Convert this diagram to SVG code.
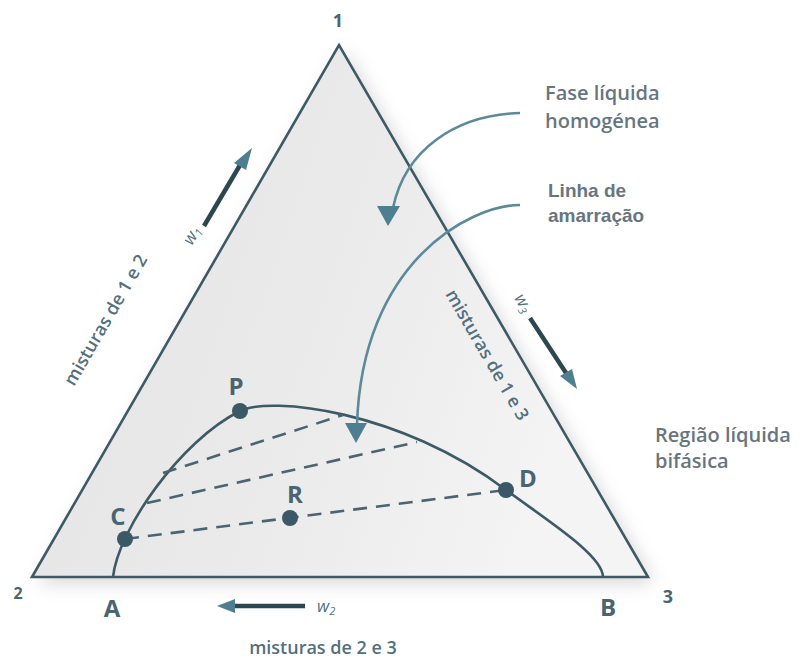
<svg xmlns="http://www.w3.org/2000/svg" width="803" height="660" viewBox="0 0 803 660">
<defs>
<linearGradient id="tri" x1="0" y1="0" x2="1" y2="0.3">
<stop offset="0" stop-color="#e3e3e3"/>
<stop offset="0.6" stop-color="#ebebeb"/>
<stop offset="1" stop-color="#f4f4f4"/>
</linearGradient>
<filter id="sh" x="-20%" y="-20%" width="140%" height="140%">
<feGaussianBlur stdDeviation="9"/>
</filter>
<style>
.edge{fill:url(#tri);stroke:#3d5a66;stroke-width:2.6;stroke-linejoin:miter}
.shadow{fill:#9a9a9a;opacity:0.4}
.curve{fill:none;stroke:#3d5a66;stroke-width:2.6}
.tie{fill:none;stroke:#4a6470;stroke-width:2.6;stroke-dasharray:14 9}
.dot{fill:#3a5865}
.lbl{font-family:"Open Sans","DejaVu Sans",sans-serif;font-weight:700;fill:#4a6470;text-anchor:middle}
.mix{font-family:"Open Sans","DejaVu Sans",sans-serif;font-weight:600;font-size:18px;fill:#52707d;text-anchor:middle}
.w{font-family:"Open Sans","DejaVu Sans",sans-serif;font-style:italic;font-size:17px;fill:#52707d}
.note{font-family:"Open Sans","DejaVu Sans",sans-serif;font-weight:600;font-size:20px;fill:#67767e}
.note2{font-family:"Liberation Sans",Arial,sans-serif;font-weight:700;font-size:19px;fill:#67767e}
.call{fill:none;stroke:#5b8a9b;stroke-width:2.6}
.head{fill:#4d7f91}
.dark{fill:none;stroke:#2e4650;stroke-width:4.5}
</style>
</defs>
<g id="triangle">
<polygon class="shadow" points="38,583 345,51 654,583" filter="url(#sh)"/>
<polygon class="edge" points="32,577 339,45 648,577"/>
</g>
<g id="binodal">
<path class="curve" d="M113,577 C118,530 180,441 240,411 C270,396 400,410 506,490 C545,519 603,555 603,577"/>
</g>
<g id="tielines">
<line class="tie" x1="163" y1="473" x2="343" y2="415"/>
<line class="tie" x1="147" y1="503" x2="417" y2="442"/>
<line class="tie" x1="125" y1="539" x2="506" y2="490"/>
</g>
<g id="points">
<circle class="dot" cx="240" cy="411" r="8"/>
<circle class="dot" cx="125" cy="539" r="8"/>
<circle class="dot" cx="290" cy="518" r="8"/>
<circle class="dot" cx="506" cy="490" r="8"/>
</g>
<g id="labels">
<text class="lbl" x="338" y="27" font-size="18">1</text>
<text class="lbl" x="18" y="599" font-size="16">2</text>
<text class="lbl" x="668" y="603" font-size="18">3</text>
<text class="lbl" x="112" y="617" font-size="24">A</text>
<text class="lbl" x="608" y="616" font-size="24">B</text>
<text class="lbl" x="236" y="395" font-size="24">P</text>
<text class="lbl" x="118" y="525" font-size="24">C</text>
<text class="lbl" x="295" y="503" font-size="24">R</text>
<text class="lbl" x="528" y="487" font-size="24">D</text>
</g>
<g id="mixtures">
<text class="mix" x="111" y="323" transform="rotate(-60 111 323)">misturas de 1 e 2</text>
<text class="mix" x="482" y="358" transform="rotate(60 482 358)">misturas de 1 e 3</text>
<text class="mix" x="323" y="654">misturas de 2 e 3</text>
</g>
<g id="axes">
<line class="dark" x1="204" y1="226" x2="243" y2="160"/>
<polygon class="head" points="252,148 246,170 234,163"/>
<text class="w" x="192" y="246" transform="rotate(-60 192 246)">w<tspan font-size="11" dy="3">1</tspan></text>
<line class="dark" x1="305" y1="606" x2="232" y2="606"/>
<polygon class="head" points="217,606 235,599 235,613"/>
<text class="w" x="317" y="612">w<tspan font-size="11" dy="3">2</tspan></text>
<line class="dark" x1="530" y1="318" x2="568" y2="376"/>
<polygon class="head" points="577,389 560,376 572,369"/>
<text class="w" x="514" y="298" transform="rotate(60 514 298)">w<tspan font-size="11" dy="3">3</tspan></text>
</g>
<g id="callouts">
<path class="call" d="M520,113 C455,115 405,150 393,208"/>
<polygon class="head" points="377,206 400,206 388,226"/>
<path class="call" d="M520,205 C470,205 362,262 357,425"/>
<polygon class="head" points="345,423 367,423 356,443"/>
</g>
<g id="notes">
<text class="note" x="545" y="100">Fase líquida</text>
<text class="note" x="545" y="128">homogénea</text>
<text class="note2" x="548" y="197">Linha de</text>
<text class="note2" x="548" y="222">amarração</text>
<text class="note" x="655" y="442">Região líquida</text>
<text class="note" x="655" y="468">bifásica</text>
</g>
</svg>
